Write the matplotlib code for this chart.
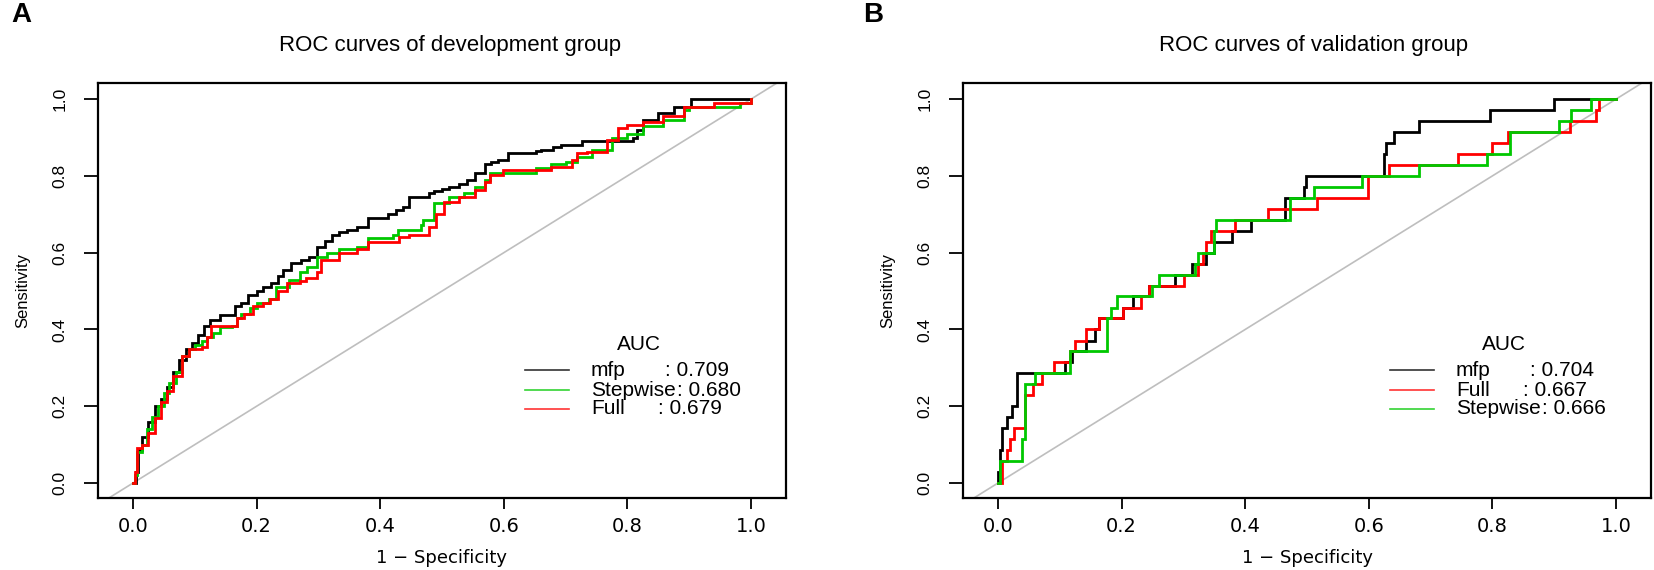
import matplotlib
matplotlib.use("Agg")
import matplotlib.pyplot as plt
import numpy as np

# ---- data: (1 - specificity, sensitivity) step points ----
dev_mfp = [(0, 0), (0.005, 0.03), (0.008, 0.085), (0.015, 0.12), (0.025, 0.16), (0.035, 0.2),
           (0.045, 0.22), (0.055, 0.25), (0.065, 0.29), (0.075, 0.32), (0.085, 0.35), (0.095, 0.365),
           (0.105, 0.385), (0.115, 0.41), (0.125, 0.424), (0.14, 0.437), (0.165, 0.46), (0.175, 0.47),
           (0.186, 0.49), (0.2, 0.5), (0.21, 0.51), (0.223, 0.52), (0.235, 0.54), (0.243, 0.555),
           (0.256, 0.572), (0.272, 0.58), (0.285, 0.59), (0.297, 0.616), (0.31, 0.63), (0.322, 0.646),
           (0.334, 0.655), (0.347, 0.66), (0.363, 0.668), (0.38, 0.69), (0.413, 0.7), (0.425, 0.71),
           (0.437, 0.72), (0.446, 0.746), (0.479, 0.755), (0.487, 0.76), (0.5, 0.765), (0.512, 0.772),
           (0.528, 0.78), (0.54, 0.79), (0.553, 0.807), (0.569, 0.83), (0.58, 0.835), (0.59, 0.842),
           (0.606, 0.86), (0.652, 0.865), (0.66, 0.868), (0.68, 0.875), (0.693, 0.88), (0.726, 0.89),
           (0.809, 0.9), (0.815, 0.92), (0.825, 0.946), (0.85, 0.963), (0.875, 0.98), (0.903, 1.0),
           (1.0, 1.0)]
dev_step = [(0, 0), (0.003, 0.02), (0.006, 0.08), (0.015, 0.1), (0.022, 0.14), (0.03, 0.172),
            (0.04, 0.2), (0.05, 0.235), (0.058, 0.26), (0.07, 0.29), (0.08, 0.33), (0.09, 0.35),
            (0.1, 0.36), (0.112, 0.37), (0.12, 0.38), (0.13, 0.39), (0.14, 0.407), (0.16, 0.41),
            (0.168, 0.43), (0.175, 0.44), (0.19, 0.455), (0.2, 0.47), (0.22, 0.48), (0.232, 0.51),
            (0.252, 0.53), (0.27, 0.55), (0.281, 0.563), (0.297, 0.59), (0.314, 0.6), (0.334, 0.61),
            (0.363, 0.616), (0.38, 0.637), (0.42, 0.645), (0.429, 0.66), (0.466, 0.672), (0.47, 0.685),
            (0.487, 0.73), (0.512, 0.746), (0.536, 0.755), (0.553, 0.772), (0.569, 0.79), (0.578, 0.807),
            (0.644, 0.807), (0.652, 0.82), (0.677, 0.83), (0.701, 0.837), (0.718, 0.85), (0.742, 0.868),
            (0.775, 0.898), (0.8, 0.91), (0.825, 0.93), (0.858, 0.946), (0.891, 0.972), (0.9, 0.98),
            (0.957, 0.98), (0.982, 0.99), (1.0, 1.0)]
dev_full = [(0, 0), (0.004, 0.03), (0.007, 0.09), (0.015, 0.1), (0.025, 0.13), (0.035, 0.17),
            (0.045, 0.21), (0.055, 0.24), (0.065, 0.28), (0.08, 0.33), (0.09, 0.35), (0.112, 0.355),
            (0.12, 0.38), (0.126, 0.41), (0.16, 0.41), (0.168, 0.43), (0.18, 0.44), (0.195, 0.46),
            (0.21, 0.47), (0.222, 0.48), (0.235, 0.5), (0.25, 0.52), (0.27, 0.525), (0.28, 0.535),
            (0.297, 0.55), (0.305, 0.58), (0.334, 0.6), (0.363, 0.61), (0.38, 0.628), (0.43, 0.64),
            (0.446, 0.646), (0.479, 0.667), (0.491, 0.7), (0.503, 0.733), (0.528, 0.746), (0.553, 0.763),
            (0.569, 0.785), (0.578, 0.803), (0.598, 0.816), (0.664, 0.816), (0.677, 0.824), (0.71, 0.842),
            (0.718, 0.86), (0.735, 0.863), (0.767, 0.894), (0.784, 0.924), (0.8, 0.933), (0.825, 0.94),
            (0.858, 0.955), (0.891, 0.98), (0.94, 0.99), (1.0, 1.0)]

val_mfp = [(0, 0), (0, 0.03), (0.004, 0.086), (0.006, 0.143), (0.015, 0.171), (0.023, 0.2),
           (0.03, 0.286), (0.108, 0.314), (0.12, 0.343), (0.142, 0.371), (0.157, 0.4), (0.164, 0.429),
           (0.202, 0.457), (0.219, 0.486), (0.245, 0.514), (0.287, 0.543), (0.314, 0.571), (0.336, 0.6),
           (0.349, 0.629), (0.379, 0.657), (0.41, 0.686), (0.465, 0.743), (0.495, 0.771), (0.499, 0.8),
           (0.624, 0.857), (0.628, 0.886), (0.641, 0.914), (0.682, 0.943), (0.796, 0.971), (0.899, 1.0),
           (1.0, 1.0)]
val_full = [(0, 0), (0.005, 0), (0.007, 0.057), (0.015, 0.086), (0.019, 0.114), (0.026, 0.143),
            (0.043, 0.229), (0.056, 0.257), (0.071, 0.286), (0.09, 0.314), (0.116, 0.343), (0.125, 0.371),
            (0.142, 0.4), (0.164, 0.429), (0.202, 0.457), (0.232, 0.486), (0.245, 0.514), (0.301, 0.543),
            (0.323, 0.571), (0.331, 0.6), (0.336, 0.629), (0.344, 0.657), (0.383, 0.686), (0.437, 0.714),
            (0.516, 0.743), (0.598, 0.8), (0.633, 0.829), (0.744, 0.857), (0.8, 0.886), (0.826, 0.914),
            (0.925, 0.943), (0.968, 0.971), (0.972, 1.0), (1.0, 1.0)]
val_step = [(0, 0), (0.003, 0.057), (0.034, 0.057), (0.039, 0.114), (0.043, 0.257), (0.06, 0.286),
            (0.116, 0.343), (0.176, 0.429), (0.183, 0.457), (0.192, 0.486), (0.25, 0.514), (0.261, 0.543),
            (0.318, 0.571), (0.324, 0.6), (0.349, 0.657), (0.353, 0.686), (0.473, 0.743), (0.512, 0.771),
            (0.589, 0.8), (0.682, 0.829), (0.792, 0.857), (0.829, 0.914), (0.908, 0.943), (0.927, 0.971),
            (0.96, 1.0), (1.0, 1.0)]

panel_titles = ["ROC curves of development group", "ROC curves of validation group"]
panel_letters = ["A", "B"]
model_names_dev = ["mfp", "Stepwise", "Full"]
auc_dev = [0.709, 0.680, 0.679]
model_names_val = ["mfp", "Full", "Stepwise"]
auc_val = [0.704, 0.667, 0.666]
tick_vals = [0.0, 0.2, 0.4, 0.6, 0.8, 1.0]

colors = {"mfp": "black", "Full": "#ff0000", "Stepwise": "#00c800"}
# where the colon of each legend entry sits (R pads the names with spaces)
colon_x = {"mfp": 0.861, "Full": 0.849, "Stepwise": 0.880}

W, H = 1654, 570
fig = plt.figure(figsize=(W / 100, H / 100), dpi=100)


def px_ax(left, top, right, bottom):
    return [left / W, 1 - bottom / H, (right - left) / W, (bottom - top) / H]


def draw_panel(rect, curves, names, aucs, title, letter, title_x, letter_x):
    ax = fig.add_axes(rect)
    ax.plot([-0.2, 1.2], [-0.2, 1.2], color="#bebebe", lw=1.2, zorder=1)
    for name, pts in zip(names, curves):
        x, y = np.array(pts).T
        ax.plot(x, y, drawstyle="steps-post", color=colors[name], lw=2.0,
                solid_joinstyle="miter", zorder=2)
    ax.set_xlim(-0.0566, 1.0566)
    ax.set_ylim(-0.039, 1.042)
    ax.set_xticks(tick_vals)
    ax.set_yticks(tick_vals)
    ax.set_xticklabels([f"{v:.1f}" for v in tick_vals], family="DejaVu Sans", fontsize=14)
    ax.set_yticklabels([f"{v:.1f}" for v in tick_vals], family="Liberation Sans", fontsize=12.5,
                       rotation=90, va="center")
    ax.tick_params(axis="x", length=8, width=1.3, pad=6)
    ax.tick_params(axis="y", length=10, width=1.3, pad=12)
    for s in ax.spines.values():
        s.set_linewidth(1.6)
    ax.set_xlabel("1 − Specificity", family="DejaVu Sans", fontsize=13, labelpad=9)
    ax.set_ylabel("Sensitivity", family="Liberation Sans", fontsize=12, labelpad=16)

    # legend drawn as in R (no box)
    ax.text(0.818, 0.362, "AUC", ha="center", va="center", family="Liberation Sans", fontsize=15)
    rows = [0.294, 0.242, 0.193]
    for yy, name, a in zip(rows, names, aucs):
        ax.plot([0.634, 0.706], [yy, yy], color=colors[name], lw=1.2, alpha=0.8)
        ax.text(0.741, yy, name, ha="left", va="center",
                family="Liberation Sans", fontsize=15)
        ax.text(colon_x[name], yy, f": {a:.3f}", ha="left", va="center",
                family="Liberation Sans", fontsize=15)

    fig.text(title_x / W, 1 - 45 / H, title, ha="center", va="center",
             family="Liberation Sans", fontsize=16)
    fig.text(letter_x / W, 1 - 15 / H, letter, ha="left", va="center",
             family="Liberation Sans", fontweight="bold", fontsize=20)
    return ax


draw_panel(px_ax(98, 83, 786, 498), [dev_mfp, dev_step, dev_full], model_names_dev, auc_dev,
           panel_titles[0], panel_letters[0], 450, 11)
draw_panel(px_ax(963, 83, 1651, 498), [val_mfp, val_full, val_step], model_names_val, auc_val,
           panel_titles[1], panel_letters[1], 1314, 863)

fig.savefig("out.png", dpi=100)
